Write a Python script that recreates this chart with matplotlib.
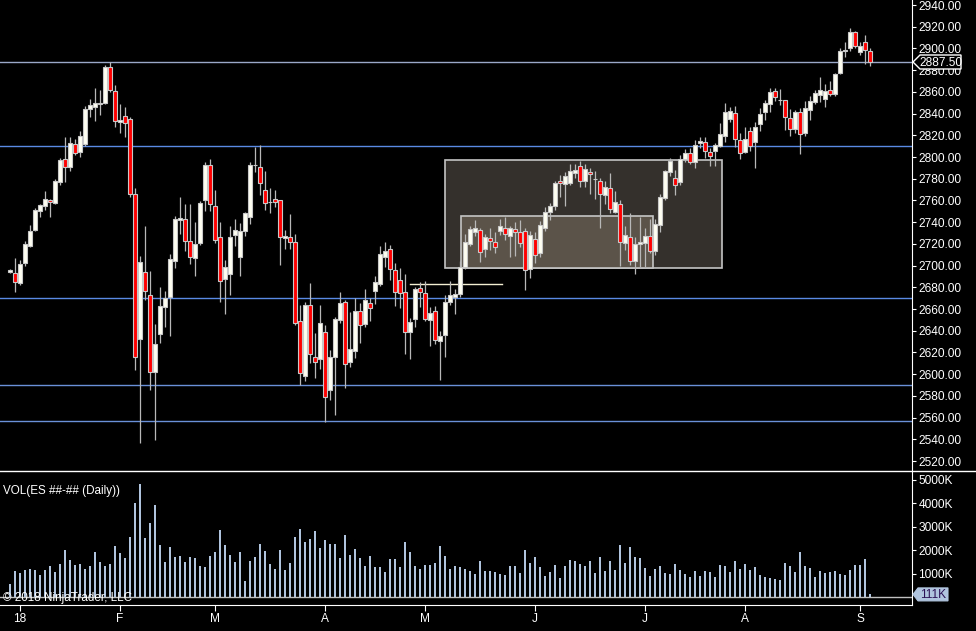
import matplotlib
matplotlib.use('Agg')
import matplotlib.pyplot as plt
import numpy as np
from matplotlib.patches import Rectangle, Polygon
from matplotlib.lines import Line2D

plt.rcParams['font.family'] = ['Liberation Sans', 'DejaVu Sans']

# ---------------- data ----------------
opens = [2694, 2693, 2684, 2702, 2718, 2733, 2750, 2755, 2760, 2758,
         2777, 2798, 2791, 2812, 2805, 2812, 2844, 2846, 2849, 2850,
         2882.5, 2861, 2832, 2838, 2835, 2766, 2632, 2694, 2673, 2602,
         2637, 2662, 2671, 2704, 2742, 2742.5, 2723, 2707, 2721, 2760,
         2792.5, 2754.5, 2726.5, 2687.5, 2692, 2728, 2708, 2732, 2745, 2792.5,
         2790.5, 2770, 2759, 2761, 2760.5, 2725, 2726.5, 2721.5, 2649, 2598.5,
         2663.5, 2616, 2613.5, 2638.5, 2585.5, 2615.5, 2650, 2666, 2611, 2621.5,
         2658, 2646, 2665.5, 2677, 2683, 2707.5, 2715, 2696, 2686.5, 2675.5,
         2638.5, 2651, 2679, 2674.5, 2650, 2658.5, 2630.5, 2636, 2666, 2671.5,
         2674, 2699, 2720, 2730.5, 2732.5, 2715.5, 2725, 2722, 2732, 2735,
         2727.5, 2733.5, 2730.5, 2732, 2696.5, 2724.5, 2711.5, 2734.5, 2749.5, 2754.5,
         2778, 2775, 2776.5, 2785, 2791.5, 2777.5, 2786.5, 2780, 2778, 2765,
         2771, 2749.5, 2756.5, 2721, 2726.5, 2704.5, 2720, 2720.5, 2727, 2713,
         2737, 2762, 2786.5, 2780.5, 2777, 2798, 2804, 2795, 2812.5, 2814,
         2805, 2805.5, 2810.5, 2819, 2835, 2840.5, 2815.5, 2805, 2823.5, 2813.5,
         2830, 2841, 2848.5, 2861, 2852.5, 2852.5, 2835.5, 2826, 2841, 2822,
         2843, 2851, 2857, 2853, 2861.5, 2858, 2877, 2898, 2900, 2915,
         2897, 2906, 2898]

highs = [2697, 2707, 2705, 2723, 2737, 2753, 2757, 2769, 2761, 2779.5,
         2799.5, 2818, 2818, 2816.5, 2824, 2847, 2853, 2864, 2862, 2884.5,
         2887.5, 2866, 2849, 2846, 2837, 2771, 2709, 2736, 2695, 2646,
         2680, 2676.5, 2710.5, 2745.5, 2763, 2756.5, 2756.5, 2740, 2759.5, 2795,
         2798, 2770, 2740, 2705, 2736, 2742.5, 2739, 2749.5, 2795, 2809.5,
         2811, 2787, 2771, 2769.5, 2760.5, 2733, 2747.5, 2729.5, 2663.5, 2666.5,
         2683.5, 2637.5, 2663.5, 2645.5, 2622, 2653, 2675.5, 2668.5, 2657.5, 2670,
         2665.5, 2678.5, 2670, 2690.5, 2718, 2722, 2719, 2702.5, 2697.5, 2692,
         2651.5, 2680.5, 2685, 2686, 2661.5, 2663, 2639.5, 2673, 2686, 2678.5,
         2704, 2729, 2736, 2742, 2735, 2729.5, 2735, 2730.5, 2743, 2745,
         2736, 2740.5, 2742, 2735, 2732, 2731, 2741.5, 2753.5, 2757.5, 2778,
         2783.5, 2786.5, 2794, 2794, 2796.5, 2794, 2789.5, 2787.5, 2781, 2777.5,
         2785, 2768.5, 2760, 2736, 2748.5, 2726.5, 2745, 2735, 2742.5, 2742.5,
         2765.5, 2788, 2799, 2788, 2802, 2807.5, 2808, 2815.5, 2818, 2818,
         2808, 2813, 2831, 2849.5, 2846.5, 2847, 2822, 2827.5, 2827.5, 2832.5,
         2845, 2852.5, 2863.5, 2863.5, 2862.5, 2852.5, 2844, 2843.5, 2845, 2851.5,
         2856.5, 2861.5, 2874, 2867, 2870, 2877.5, 2900, 2906, 2918.5, 2916,
         2906, 2912.5, 2900]

lows = [2693, 2676, 2682, 2700, 2717, 2732, 2745, 2751, 2745, 2757,
        2774, 2777, 2787.5, 2802, 2800, 2810, 2837, 2833.5, 2839, 2849,
        2859.5, 2827.5, 2822, 2818, 2763.5, 2604, 2537, 2668, 2585, 2539,
        2628.5, 2643, 2635.5, 2697.5, 2729.5, 2713.5, 2701.5, 2690, 2718.5, 2750.5,
        2750.5, 2721, 2666.5, 2655.5, 2672.5, 2718, 2690, 2727.5, 2738.5, 2786.5,
        2765, 2751, 2748, 2753.5, 2700.5, 2715.5, 2715.5, 2645.5, 2590, 2594,
        2610, 2596, 2604.5, 2555.5, 2576, 2562.5, 2647.5, 2587.5, 2607, 2614.5,
        2628.5, 2643, 2648.5, 2664.5, 2681.5, 2699, 2686.5, 2663, 2660.5, 2618.5,
        2614, 2643, 2661.5, 2649, 2626, 2628, 2595, 2615.5, 2663.5, 2655.5,
        2671, 2696.5, 2718, 2727, 2703.5, 2707.5, 2714.5, 2711.5, 2728, 2723.5,
        2707.5, 2709, 2717.5, 2677.5, 2689, 2702, 2708, 2732, 2742, 2751,
        2763.5, 2755, 2774, 2780.5, 2772, 2772, 2765.5, 2761, 2735, 2756.5,
        2748, 2748, 2700, 2714.5, 2700.5, 2692, 2699, 2699, 2712, 2710,
        2730.5, 2760, 2782.5, 2765, 2774, 2795, 2793.5, 2789.5, 2808, 2799,
        2792, 2792, 2809, 2814, 2832.5, 2809.5, 2798, 2803.5, 2805.5, 2790,
        2824, 2834, 2841, 2851.5, 2847.5, 2825, 2819.5, 2822.5, 2802.5, 2819,
        2834, 2849, 2851, 2846, 2856, 2856, 2876, 2892.5, 2898, 2900,
        2893.5, 2885.5, 2884]

closes = [2696, 2685, 2701, 2720, 2732, 2751, 2755.5, 2761, 2759, 2778,
          2797, 2791, 2812.5, 2804, 2819, 2844, 2848, 2849.5, 2850, 2882.5,
          2862, 2833, 2834, 2831, 2766, 2616, 2703, 2677, 2602, 2628,
          2663, 2670, 2706, 2742.5, 2743.5, 2722.5, 2707.5, 2719.5, 2757.5, 2793,
          2756.5, 2723.5, 2686, 2698.5, 2726.5, 2732.5, 2732, 2748, 2792.5, 2793,
          2776.5, 2757.5, 2758.5, 2759, 2726, 2727, 2721.5, 2647, 2601.5, 2663.5,
          2619, 2611, 2647, 2578.5, 2616, 2650.5, 2665.5, 2609, 2623, 2658.5,
          2645, 2668.5, 2660.5, 2685, 2710.5, 2713.5, 2696.5, 2675.5, 2674.5, 2638.5,
          2648, 2678.5, 2675.5, 2650.5, 2656, 2631.5, 2635.5, 2666, 2673, 2674,
          2699, 2722, 2733.5, 2734.5, 2712.5, 2726.5, 2722.5, 2717, 2736.5, 2729.5,
          2734.5, 2730.5, 2721, 2696, 2728, 2709.5, 2737.5, 2749, 2755, 2776,
          2776, 2782.5, 2787, 2788, 2778, 2788.5, 2784, 2779.5, 2765.5, 2772,
          2752, 2759, 2722, 2728, 2704.5, 2719.5, 2721.5, 2727, 2713, 2738,
          2763, 2787, 2796.5, 2774, 2798, 2803.5, 2795.5, 2811, 2815, 2805.5,
          2801, 2811.5, 2821, 2841, 2842, 2817, 2803.5, 2816.5, 2810.5, 2828,
          2839.5, 2849.5, 2859.5, 2855, 2852.5, 2836.5, 2826, 2841, 2821, 2845,
          2852, 2858.5, 2861.5, 2861, 2858, 2876, 2898, 2899, 2915, 2902,
          2902, 2899, 2887.5]

volumes_k = [550, 1110, 1020, 1150, 1180, 1150, 940, 1150, 1320, 1060,
             1400, 2000, 1570, 1360, 1400, 1190, 1320, 1910, 1490, 1320,
             1400, 2170, 1870, 1660, 2550, 4000, 4810, 2510, 3150, 3910,
             2210, 1490, 2130, 1700, 1740, 1490, 1700, 1660, 1320, 1280,
             1740, 1910, 2850, 2210, 1790, 1490, 1910, 680, 1530, 1700,
             2260, 1960, 1400, 1190, 2000, 1150, 1450, 2550, 2890, 2340,
             2470, 2810, 2090, 2430, 2260, 2260, 1660, 2640, 1790, 2040,
             1660, 1320, 1740, 1280, 1280, 1060, 1620, 1620, 1280, 2340,
             1910, 1320, 1190, 1360, 1360, 1450, 2170, 1740, 1190, 1320,
             1280, 1190, 1110, 980, 1530, 1110, 1110, 1060, 980, 940,
             1320, 1320, 1020, 2000, 1450, 1700, 1280, 890, 1060, 1360,
             810, 1320, 1570, 1530, 1400, 1320, 1530, 1020, 1700, 1110,
             1530, 1150, 2210, 1450, 2130, 1700, 1660, 1230, 890, 1190,
             1320, 1020, 980, 1400, 1150, 980, 850, 1110, 890, 1110,
             1060, 850, 1360, 1320, 1060, 1530, 1190, 1400, 1150, 1280,
             940, 850, 810, 770, 720, 1450, 1320, 1060, 1910, 1320,
             1230, 850, 1110, 1020, 1060, 1110, 980, 940, 1150, 1360,
             1360, 1620, 111]

month_tick_idx = [2, 22, 41, 63, 83, 105, 127, 147, 170]
month_labels = ['18', 'F', 'M', 'A', 'M', 'J', 'J', 'A', 'S']

level_prices = [2887.5, 2810.0, 2670.0, 2590.0, 2556.5]
level_colors = ['#9aa8c8', '#5a8ae4', '#5a8ae4', '#6a90d8', '#6a90d8']
price_ticks = list(range(2520, 2941, 20))
volume_ticks_k = [1000, 2000, 3000, 4000, 5000]

# drawn objects (bar index, price)
zone_outer = (87.0, 142.3, 2697.8, 2796.8)
zone_inner = (90.2, 128.6, 2697.8, 2745.7)
short_level = (80.0, 98.4, 2683.3)

# ---------------- figure ----------------
W, H = 976, 631
fig = plt.figure(figsize=(W / 100, H / 100), dpi=100, facecolor='black')


def frac(x0, y0, x1, y1):
    return [x0 / W, 1 - y1 / H, (x1 - x0) / W, (y1 - y0) / H]


axp = fig.add_axes(frac(0, 0, 912, 470))
axv = fig.add_axes(frac(0, 472, 912, 605), sharex=axp)
for ax in (axp, axv):
    ax.set_facecolor('black')
    for s in ax.spines.values():
        s.set_visible(False)

n = len(closes)
idx = np.arange(n)
o = np.array(opens, float)
c = np.array(closes, float)
hi = np.array(highs, float)
lo = np.array(lows, float)
up = c >= o

# zones
for (x0, x1, p0, p1), fc in ((zone_outer, '#34302c'), (zone_inner, '#5b5349')):
    axp.add_patch(Rectangle((x0, p0), x1 - x0, p1 - p0, facecolor=fc,
                            edgecolor='#c4c4c4', linewidth=1.2, zorder=1))

# horizontal levels
for lv, lc in zip(level_prices, level_colors):
    axp.axhline(lv, color=lc, lw=1.0, zorder=2)
axp.plot([short_level[0], short_level[1]], [short_level[2]] * 2,
         color='#f3eed2', lw=1.0, zorder=2)

# candles
axp.vlines(idx, lo, hi, color='#b8b8b8', lw=0.9, zorder=3)
axp.bar(idx, np.abs(c - o), bottom=np.minimum(o, c), width=0.8,
        color=np.where(up, '#fffff2', '#ff0000'), edgecolor='#c8c8c8',
        linewidth=0.8, zorder=4)

axp.set_xlim(-2, 180.4)
p_top = 2940 + 5 * 0.92105
p_bot = 2940 - 465 * 0.92105
axp.set_ylim(p_bot, p_top)

axp.yaxis.tick_right()
axp.set_yticks(price_ticks)
axp.set_yticklabels([f'{p:.2f}' for p in price_ticks])
axp.tick_params(axis='y', colors='white', labelcolor='white', length=3.2,
                width=0.8, pad=1.5, labelsize=8.6, direction='out')
axp.tick_params(axis='x', bottom=False, labelbottom=False)
axp.spines['right'].set_visible(True)
axp.spines['right'].set_color('white')

# volume
axv.bar(idx, volumes_k, width=0.42, color='#b0c4de', zorder=3)
axv.axhline(0, color='#c0c0c0', lw=1.0, zorder=2)
s = (597 - 479.7) / 5000.0
axv.set_ylim(-(605 - 597) / s, (597 - 472) / s)
axv.yaxis.tick_right()
axv.set_yticks(volume_ticks_k)
axv.set_yticklabels([f'{v}K' for v in volume_ticks_k])
axv.tick_params(axis='y', colors='white', labelcolor='white', length=3.2,
                width=0.8, pad=1.5, labelsize=8.6, direction='out')
axv.set_xticks(month_tick_idx)
axv.set_xticklabels(month_labels)
axv.tick_params(axis='x', colors='white', labelcolor='white', length=4,
                width=0.8, pad=2.0, labelsize=8.6, direction='out')
axv.spines['right'].set_visible(True)
axv.spines['right'].set_color('white')
axv.spines['bottom'].set_visible(True)
axv.spines['bottom'].set_color('white')
axv.set_xlim(-2, 180.4)

# ---------------- overlay (pixel coords) ----------------
ov = fig.add_axes([0, 0, 1, 1], zorder=10)
ov.set_xlim(0, W)
ov.set_ylim(H, 0)
ov.axis('off')
ov.patch.set_alpha(0)

ov.add_line(Line2D([0, W], [471, 471], color='white', lw=1.0))

yp = H - axp.transData.transform((0, closes[-1]))[1]
ov.add_patch(Polygon([(913, yp), (920, yp - 7), (961, yp - 7), (961, yp + 7), (920, yp + 7)],
                     closed=True, facecolor='black', edgecolor='white', lw=1.0))
ov.text(940.5, yp + 0.5, f'{closes[-1]:.2f}', color='white', fontsize=8.6,
        ha='center', va='center')

yv = H - axv.transData.transform((0, volumes_k[-1]))[1]
ov.add_patch(Polygon([(913, yv), (918, yv - 6.5), (948, yv - 6.5), (948, yv + 6.5), (918, yv + 6.5)],
                     closed=True, facecolor='#b0c4de', edgecolor='#b0c4de', lw=0.8))
ov.text(933, yv + 0.5, f'{volumes_k[-1]}K', color='#2b1055', fontsize=8.6,
        ha='center', va='center')

ov.text(3, 491, 'VOL(ES ##-## (Daily))', color='white', fontsize=8.4,
        ha='left', va='center')
ov.text(3, 598, '© 2018 NinjaTrader, LLC', color='white', fontsize=8.4,
        ha='left', va='center')

fig.savefig('out.png', dpi=100, facecolor='black')
